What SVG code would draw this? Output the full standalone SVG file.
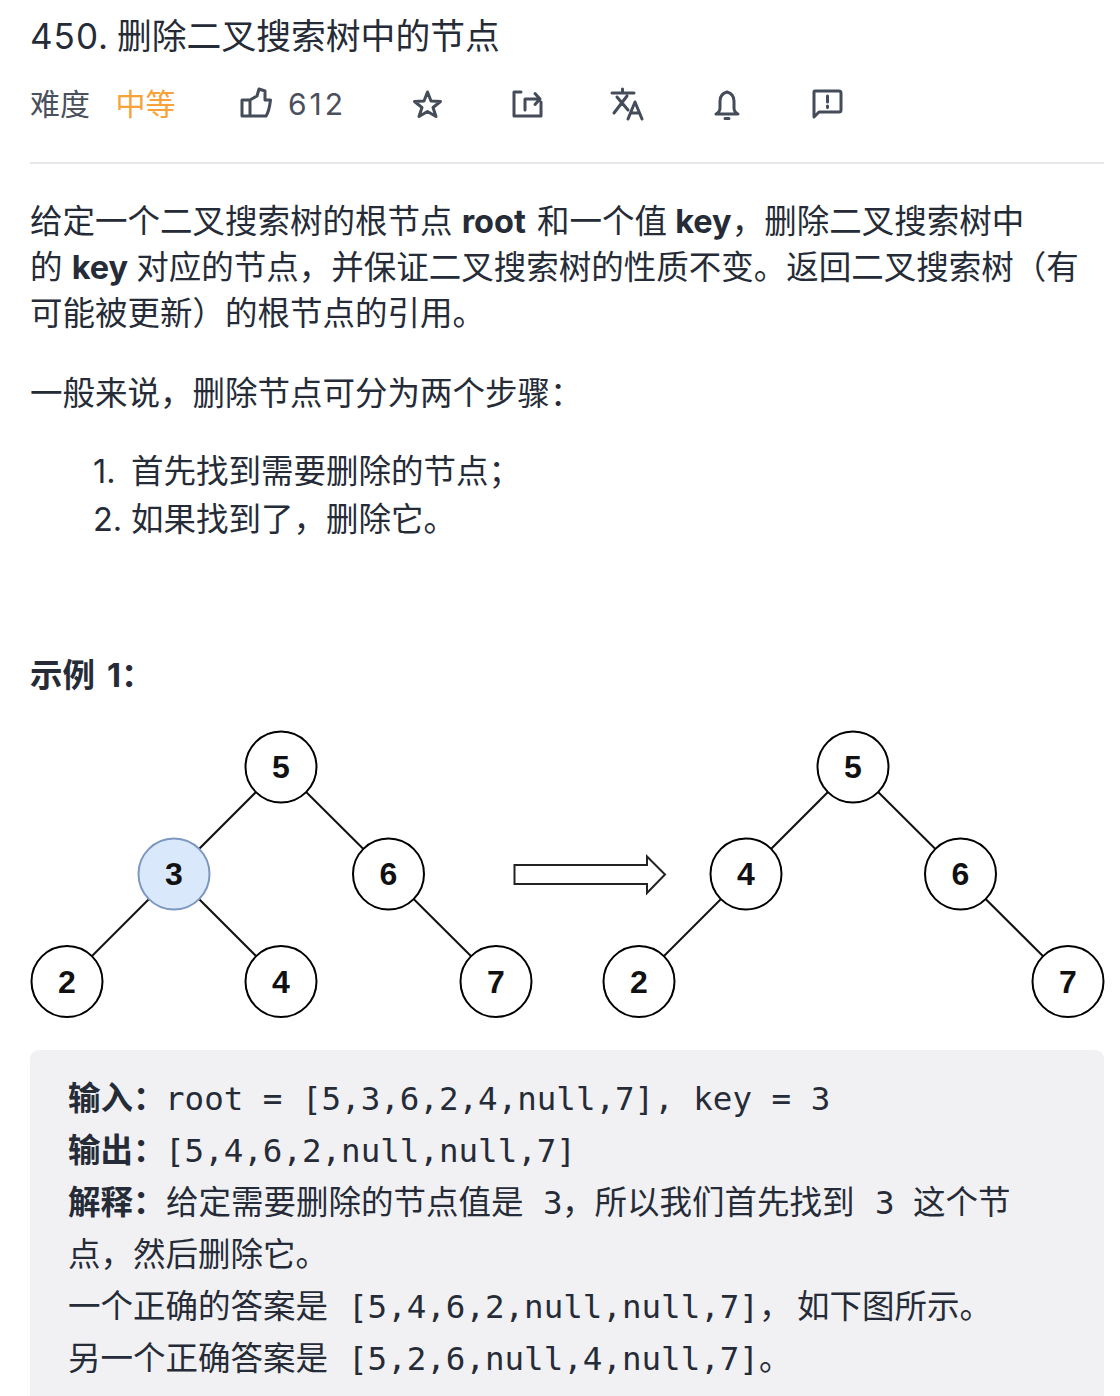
<svg xmlns="http://www.w3.org/2000/svg" width="1120" height="1396" viewBox="0 0 1120 1396">
<style>
text{font-family:"Inter","Noto Sans CJK SC",sans-serif;fill:#262c37;white-space:pre}
.t{font-size:32.5px}
.b{font-weight:700}
.m{font-family:"DejaVu Sans Mono","Noto Sans CJK SC",monospace;font-size:32.5px}
.c{font-family:"Noto Sans CJK SC",sans-serif;font-size:32.5px}
.g{fill:#4a505c;font-size:30px}
.ic{fill:none;stroke:#454c59;stroke-width:3;stroke-linejoin:round;stroke-linecap:round}
.n circle{fill:#fff;stroke:#000;stroke-width:2}
.n text{font-family:"Liberation Sans",sans-serif;font-weight:700;font-size:32px;fill:#111;text-anchor:middle}
.e line{stroke:#111;stroke-width:2}
</style>
<rect width="1120" height="1396" fill="#fff"/>
<text x="30" y="49" style="font-size:35px;letter-spacing:1px">450.</text>
<text x="117" y="49" style="font-size:34.800px">删除二叉搜索树中的节点</text>
<text x="30" y="115" class="g">难度</text>
<text x="115.500" y="115" style="font-size:30px;fill:#f8a23a">中等</text>
<text x="288" y="115" class="g" style="letter-spacing:3px">612</text>
<g id="icon-like" class="ic"><path d="M242 116V100H250V116H242ZM250 100L257 96L259 89L265 91V100H270.500Q269 112 266 116H250"/></g>
<g id="icon-star" class="ic"><path d="M427.500 92L431 101L440.500 101.500L433 107.500L436 116.500L427.500 111.500L419 116.500L422 107.500L414.500 101.500L424 101Z"/></g>
<g id="icon-share" class="ic"><path d="M521 92H514V116H541V102M525 110V99H539M535 93.500L540 99L535 104.500"/></g>
<g id="icon-translate" class="ic"><path d="M612 93H634M622.500 89V93M617 97L628 110M627 96L614 113M628 119L635 102L642 119M631 113H639"/></g>
<g id="icon-bell" class="ic"><path d="M716 114Q720 112 720 108V101Q720 94 727 92Q734 94 734 101V108Q734 112 738 114ZM725 118.500H729"/></g>
<g id="icon-report" class="ic"><path d="M815 91H839Q841 91 841 93V110Q841 112 839 112H819L814 117V92Q814 91 815 91Z"/><path d="M827.500 96V102M827.500 106V107.500"/></g>
<rect x="30" y="162" width="1074" height="2" fill="#e6e6eb"/>
<text x="30" y="233" class="t">给定一个二叉搜索树的根节点 <tspan class="b">root</tspan><tspan dx="2"> 和一个值 </tspan><tspan class="b" dx="-1">key</tspan>，删除二叉搜索树中</text>
<text x="30" y="279" class="t">的 <tspan class="b">key</tspan><tspan dx="-1"> 对应的节点，并保证二叉搜索树的性质不变。返回二叉搜索树（有</tspan></text>
<text x="30" y="325" class="t">可能被更新）的根节点的引用。</text>
<text x="30" y="405" class="t">一般来说，删除节点可分为两个步骤：</text>
<text x="93" y="483" class="t">1.</text><text x="131" y="483" class="t">首先找到需要删除的节点；</text>
<text x="93" y="531" class="t">2.</text><text x="131" y="531" class="t">如果找到了，删除它。</text>
<text x="30" y="687" class="t b">示例</text><text x="107" y="687" class="t b">1：</text>
<g id="connectors" class="e">
<line x1="281" y1="767" x2="174" y2="874"/><line x1="281" y1="767" x2="388.500" y2="874"/>
<line x1="174" y1="874" x2="67" y2="981"/><line x1="174" y1="874" x2="281" y2="981"/>
<line x1="388.500" y1="874" x2="496" y2="981"/>
<line x1="853" y1="767" x2="746" y2="874"/><line x1="853" y1="767" x2="960.500" y2="874"/>
<line x1="746" y1="874" x2="639" y2="981"/><line x1="960.500" y1="874" x2="1068" y2="981"/>
<path id="arrow" d="M514.500 865H647V856.500L665 874.500L647 893V884H514.500Z" fill="#fff" stroke="#222" stroke-width="2"/>
</g>
<g id="n1" class="n"><circle cx="281" cy="767" r="35.500"/><text x="281" y="778">5</text></g>
<g id="n2" class="n"><circle cx="174" cy="874" r="35.500" style="fill:#dae8fc;stroke:#7c97c0"/><text x="174" y="885">3</text></g>
<g id="n3" class="n"><circle cx="388.500" cy="874" r="35.500"/><text x="388.500" y="885">6</text></g>
<g id="n4" class="n"><circle cx="67" cy="981.500" r="35.500"/><text x="67" y="992.500">2</text></g>
<g id="n5" class="n"><circle cx="281" cy="981.500" r="35.500"/><text x="281" y="992.500">4</text></g>
<g id="n6" class="n"><circle cx="496" cy="981.500" r="35.500"/><text x="496" y="992.500">7</text></g>
<g id="n7" class="n"><circle cx="853" cy="767" r="35.500"/><text x="853" y="778">5</text></g>
<g id="n8" class="n"><circle cx="746" cy="874" r="35.500"/><text x="746" y="885">4</text></g>
<g id="n9" class="n"><circle cx="960.500" cy="874" r="35.500"/><text x="960.500" y="885">6</text></g>
<g id="n10" class="n"><circle cx="639" cy="981.500" r="35.500"/><text x="639" y="992.500">2</text></g>
<g id="n11" class="n"><circle cx="1068" cy="981.500" r="35.500"/><text x="1068" y="992.500">7</text></g>
<path d="M30 1396V1060Q30 1050 40 1050H1094Q1104 1050 1104 1060V1396Z" fill="#f1f1f3"/>
<text x="68" y="1110" class="c b">输入：</text><text x="165" y="1110" class="m">root = [5,3,6,2,4,null,7], key = 3</text>
<text x="68" y="1162" class="c b">输出：</text><text x="165" y="1162" class="m">[5,4,6,2,null,null,7]</text>
<text x="68" y="1214" class="c b">解释：</text><text x="166" y="1214" class="c">给定需要删除的节点值是</text><text x="543" y="1214" class="m">3</text><text x="562" y="1214" class="c">，所以我们首先找到</text><text x="875" y="1214" class="m">3</text><text x="913" y="1214" class="c">这个节</text>
<text x="68" y="1266" class="c">点，然后删除它。</text>
<text x="68" y="1318" class="c">一个正确的答案是</text><text x="348" y="1318" class="m">[5,4,6,2,null,null,7]，</text><text x="797" y="1318" class="c">如下图所示。</text>
<text x="68" y="1370" class="c">另一个正确答案是</text><text x="348" y="1370" class="m">[5,2,6,null,4,null,7]。</text>
</svg>
